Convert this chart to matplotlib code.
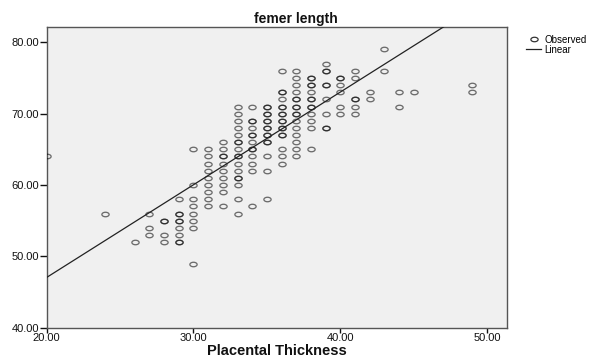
import numpy as np
import matplotlib
matplotlib.use("Agg")
import matplotlib.pyplot as plt
from matplotlib.path import Path
from matplotlib.lines import Line2D

plt.rcParams['font.family'] = ['Liberation Sans', 'DejaVu Sans']

# Placental thickness values (x) and femur length (y); repeated pairs = overlapping cases
placental_thickness = [
    20, 24, 26,
    27, 27, 27,
    28, 28, 28, 28,
    29, 29, 29, 29, 29, 29, 29, 29, 29,
    30, 30, 30, 30, 30, 30, 30, 30,
    31, 31, 31, 31, 31, 31, 31, 31, 31,
    32, 32, 32, 32, 32, 32, 32, 32, 32, 32,
    33, 33, 33, 33, 33, 33, 33, 33, 33, 33, 33, 33, 33, 33, 33, 33, 33,
    34, 34, 34, 34, 34, 34, 34, 34, 34, 34, 34, 34, 34,
    35, 35, 35, 35, 35, 35, 35, 35, 35, 35, 35, 35, 35, 35, 35,
    36, 36, 36, 36, 36, 36, 36, 36, 36, 36, 36, 36, 36, 36, 36, 36, 36,
    37, 37, 37, 37, 37, 37, 37, 37, 37, 37, 37, 37, 37, 37, 37, 37,
    38, 38, 38, 38, 38, 38, 38, 38, 38, 38, 38, 38, 38,
    39, 39, 39, 39, 39, 39, 39, 39, 39,
    40, 40, 40, 40, 40, 40,
    41, 41, 41, 41, 41, 41,
    42, 42, 43, 43, 44, 44, 45, 49, 49,
]
femur_length = [
    64, 56, 52,
    56, 54, 53,
    55, 55, 53, 52,
    58, 56, 56, 55, 55, 54, 53, 52, 52,
    65, 60, 58, 57, 56, 55, 54, 49,
    65, 64, 63, 62, 61, 60, 59, 58, 57,
    66, 65, 64, 64, 63, 62, 61, 60, 59, 57,
    71, 70, 69, 68, 67, 66, 66, 65, 64, 64, 63, 62, 61, 61, 60, 58, 56,
    71, 69, 69, 68, 67, 67, 66, 65, 65, 64, 63, 62, 57,
    71, 71, 70, 70, 69, 69, 68, 68, 67, 67, 66, 66, 64, 62, 58,
    76, 73, 73, 72, 71, 71, 70, 70, 69, 69, 68, 68, 67, 67, 65, 64, 63,
    76, 75, 74, 73, 72, 72, 71, 71, 70, 70, 69, 68, 67, 66, 65, 64,
    75, 75, 74, 74, 73, 72, 72, 71, 71, 70, 69, 68, 65,
    77, 76, 76, 74, 74, 72, 70, 68, 68,
    75, 75, 74, 73, 71, 70,
    76, 75, 72, 72, 71, 70,
    73, 72, 79, 76, 73, 71, 73, 74, 73,
]
# Linear fit line as drawn in the chart
fit_intercept = 21.1
fit_slope = 1.298

x_ticks = [20, 30, 40, 50]
y_ticks = [40, 50, 60, 70, 80]

fig = plt.figure(figsize=(5.92, 3.60), dpi=100)
ax = fig.add_axes([46.7 / 592, 1 - 327.8 / 360, (507 - 46.7) / 592, (327.8 - 27.3) / 360])
ax.set_facecolor('#f0f0f0')

# elliptical open-circle marker (as rendered in the source)
t = np.linspace(0, 2 * np.pi, 40)
ell = Path(np.column_stack([np.cos(t), 0.62 * np.sin(t)]), closed=True)

ax.plot(placental_thickness, femur_length, linestyle='none', marker=ell,
        markersize=5.2, markerfacecolor='none', markeredgecolor=(0, 0, 0, 0.55),
        markeredgewidth=0.95, zorder=3)

xlim = (20, 51.36)
ylim = (40, 82.1)
xs = np.array(xlim)
ax.plot(xs, fit_intercept + fit_slope * xs, color='#222222', linewidth=0.9, zorder=4)

ax.set_xlim(*xlim)
ax.set_ylim(*ylim)
ax.set_xticks(x_ticks)
ax.set_yticks(y_ticks)
ax.set_xticklabels([f"{v:.2f}" for v in x_ticks])
ax.set_yticklabels([f"{v:.2f}" for v in y_ticks])
ax.tick_params(axis='x', direction='out', length=3.5, width=1, pad=0.3, labelsize=8, colors='#111111')
ax.tick_params(axis='y', direction='out', length=5, width=1, pad=0.3, labelsize=8, colors='#111111')
for s in ax.spines.values():
    s.set_color('#555555')
    s.set_linewidth(1.0)

fig.text(0.5, 1 - 19 / 360, 'femer length', ha='center', va='center',
         fontsize=10, fontweight='bold', color='#111111')
fig.text(277 / 592, 1 - 351 / 360, 'Placental Thickness', ha='center', va='center',
         fontsize=10.5, fontweight='bold', color='#111111')

handles = [
    Line2D([], [], linestyle='none', marker=ell, markersize=5.2, markerfacecolor='none',
           markeredgecolor='#333333', markeredgewidth=0.9),
    Line2D([], [], color='#222222', linewidth=0.9),
]
leg = fig.legend(handles, ['Observed', 'Linear'], loc='upper left',
                 bbox_to_anchor=(521 / 592, 1 - 30 / 360), frameon=False, fontsize=7,
                 handlelength=1.6, handletextpad=0.3, labelspacing=0.0, borderpad=0)

fig.savefig('out.png', dpi=100, facecolor='white')
